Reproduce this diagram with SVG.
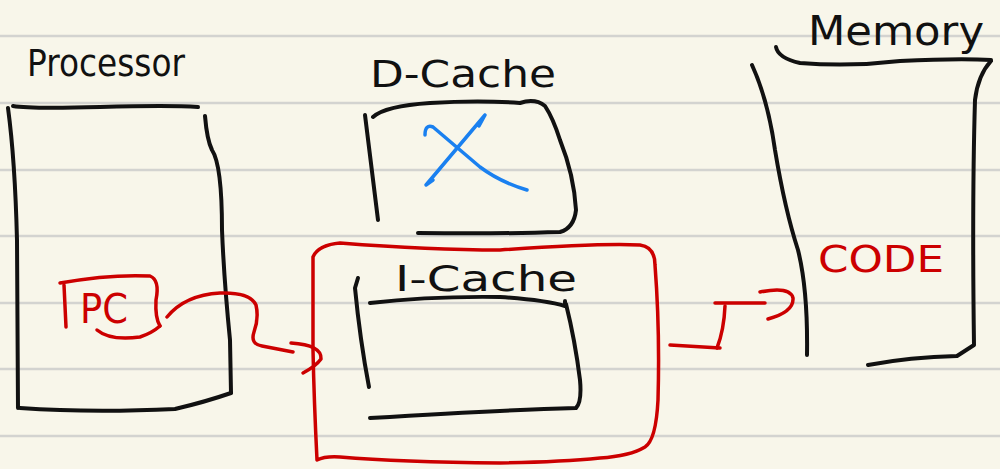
<svg xmlns="http://www.w3.org/2000/svg" width="1000" height="469" viewBox="0 0 1000 469">
<defs>
<style>
.paper{fill:#F8F6EA}
.rule{stroke:#D3D3D0;stroke-width:2.5}
.ink{fill:none;stroke:#111;stroke-width:4;stroke-linecap:round;stroke-linejoin:round}
.red{fill:none;stroke:#CC0000;stroke-width:3.5;stroke-linecap:round;stroke-linejoin:round}
.blue{fill:none;stroke:#1A80F0;stroke-width:3.5;stroke-linecap:round;stroke-linejoin:round}
.tk{font-family:"DejaVu Sans","Liberation Sans",sans-serif;fill:#111}
.tr{font-family:"DejaVu Sans","Liberation Sans",sans-serif;fill:#CC0000}
</style>
</defs>
<rect class="paper" x="0" y="0" width="1000" height="469"/>
<g id="paper-lines">
<line class="rule" x1="0" y1="36" x2="1000" y2="36"/>
<line class="rule" x1="0" y1="103" x2="1000" y2="103"/>
<line class="rule" x1="0" y1="170" x2="1000" y2="170"/>
<line class="rule" x1="0" y1="236" x2="1000" y2="236"/>
<line class="rule" x1="0" y1="303" x2="1000" y2="303"/>
<line class="rule" x1="0" y1="369" x2="1000" y2="369"/>
<line class="rule" x1="0" y1="436" x2="1000" y2="436"/>
</g>
<g id="processor">
<text class="tk" x="27" y="76" font-size="38" textLength="158" lengthAdjust="spacingAndGlyphs">Processor</text>
<path class="ink" d="M13,106 Q30,109 100,107 Q170,105 198,107"/>
<path class="ink" d="M8,108 Q15,160 17,240 L18,408"/>
<path class="ink" d="M205,116 Q207,140 212,150 Q222,165 222,230 Q224,280 230,340 L231,393"/>
<path class="ink" d="M20,408 Q90,413 175,409 Q205,402 231,393"/>
</g>
<g id="pc">
<path class="red" d="M60,283 Q110,274 150,276 Q160,280 156,300 Q155,318 160,326"/>
<path class="red" d="M64,285 L66,327"/>
<path class="red" d="M97,330 Q110,341 140,337 Q152,333 160,326"/>
<text class="tr" x="80" y="323" font-size="40" textLength="48" lengthAdjust="spacingAndGlyphs">PC</text>
</g>
<g id="dcache">
<text class="tk" x="370" y="87" font-size="38" textLength="186" lengthAdjust="spacingAndGlyphs">D-Cache</text>
<path class="ink" d="M365,115 L378,220"/>
<path class="ink" d="M373,117 Q385,106 430,103 Q480,100 520,103 Q535,98 545,106 Q553,118 560,140 Q574,175 576,210 Q574,228 560,232 Q500,234 418,233"/>
<path class="blue" d="M485,115 L426,185 M485,115 L479,126 M426,185 L433,180"/>
<path class="blue" d="M425,135 Q425,124 433,127 Q460,150 480,167 Q500,182 527,190"/>
</g>
<g id="icache">
<path class="red" d="M313,257 Q318,245 340,243 Q430,250 500,250 Q600,243 640,245 Q655,247 655,265 Q660,330 658,400 Q656,440 645,447 Q630,456 600,458 Q560,462 500,463 Q400,462 340,457 Q325,456 317,460 Q314,400 313,350 Z"/>
<text class="tk" x="395" y="291" font-size="36" textLength="182" lengthAdjust="spacingAndGlyphs">I-Cache</text>
<path class="ink" d="M358,278 L355,288 Q360,340 369,387"/>
<path class="ink" d="M370,303 Q430,296 500,297 Q545,300 565,306 L565,301"/>
<path class="ink" d="M566,304 Q575,340 580,380 Q582,402 576,408 Q500,410 370,418"/>
</g>
<g id="memory">
<text class="tk" x="808" y="45" font-size="40" textLength="176" lengthAdjust="spacingAndGlyphs">Memory</text>
<path class="ink" d="M776,47 Q778,58 800,63 Q850,67 900,61 Q960,58 991,60"/>
<path class="ink" d="M991,61 Q978,75 975,100 Q972,200 974,345 L957,356 Q910,357 868,365"/>
<path class="ink" d="M752,65 Q768,100 775,150 Q785,210 798,250 Q808,290 807,355"/>
<text class="tr" x="818" y="272" font-size="38" textLength="126" lengthAdjust="spacingAndGlyphs">CODE</text>
</g>
<g id="connectors">
<path class="red" d="M167,317 Q185,295 220,293 Q250,292 256,305 Q259,318 254,332 Q250,344 262,346 L293,352"/>
<path class="red" d="M291,343 Q322,345 321,359 Q316,366 303,373"/>
<path class="red" d="M670,345 L720,348"/>
<path class="red" d="M717,348 Q724,330 725,306"/>
<path class="red" d="M715,303 L765,303"/>
<path class="red" d="M760,292 Q790,286 793,298 Q794,312 768,319"/>
</g>
</svg>
